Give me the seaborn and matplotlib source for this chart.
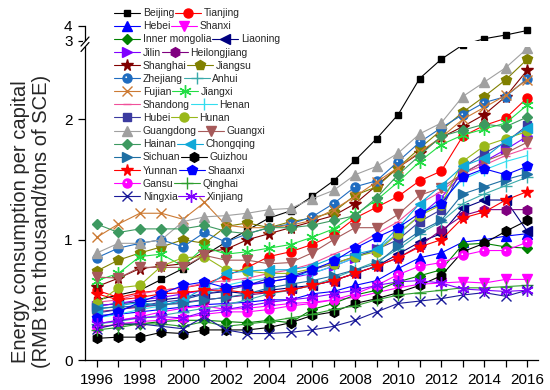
import numpy as np
import pandas as pd
import matplotlib
matplotlib.use('Agg')
import matplotlib.pyplot as plt
from matplotlib.path import Path
from matplotlib.patches import Rectangle
from matplotlib.ticker import FixedLocator, FuncFormatter
from matplotlib.legend_handler import HandlerTuple
import seaborn as sns

# Energy consumption per capital by province, 1996-2016
years = list(range(1996, 2017))

beijing = [0.50, 0.54, 0.58, 0.67, 0.76, 0.87, 0.98, 1.08, 1.18, 1.24, 1.36, 1.49, 1.66, 1.84, 2.04, 2.34, 2.50, 2.75, 3.15, 3.40, 3.70]
tianjing = [0.58, 0.52, 0.56, 0.58, 0.60, 0.63, 0.70, 0.77, 0.86, 0.90, 0.96, 1.04, 1.18, 1.27, 1.36, 1.49, 1.57, 1.86, 1.95, 2.01, 2.18]
hebei = [0.37, 0.38, 0.40, 0.42, 0.44, 0.46, 0.47, 0.48, 0.50, 0.50, 0.55, 0.57, 0.62, 0.66, 0.76, 0.85, 0.89, 0.98, 1.00, 1.03, 1.05]
shanxi = [0.30, 0.33, 0.36, 0.40, 0.43, 0.45, 0.42, 0.43, 0.45, 0.47, 0.48, 0.50, 0.52, 0.56, 0.60, 0.63, 0.64, 0.65, 0.64, 0.67, 0.67]
inner_mongolia = [0.28, 0.29, 0.30, 0.32, 0.33, 0.33, 0.32, 0.31, 0.33, 0.31, 0.42, 0.47, 0.54, 0.58, 0.65, 0.70, 0.75, 0.96, 0.97, 0.94, 0.93]
liaoning = [0.45, 0.47, 0.48, 0.50, 0.52, 0.55, 0.57, 0.55, 0.58, 0.60, 0.62, 0.66, 0.72, 0.78, 0.88, 0.98, 1.05, 1.26, 1.33, 1.33, 1.07]
jilin = [0.45, 0.47, 0.50, 0.52, 0.55, 0.58, 0.60, 0.62, 0.65, 0.68, 0.72, 0.78, 0.85, 0.92, 1.05, 1.20, 1.35, 1.55, 1.65, 1.75, 1.86]
heilongjiang = [0.40, 0.42, 0.44, 0.46, 0.48, 0.50, 0.52, 0.54, 0.56, 0.58, 0.62, 0.66, 0.72, 0.78, 0.85, 0.95, 1.08, 1.20, 1.25, 1.25, 1.25]
shanghai = [0.61, 0.68, 0.76, 0.78, 0.80, 0.90, 0.92, 1.00, 1.05, 1.10, 1.15, 1.20, 1.30, 1.45, 1.60, 1.72, 1.85, 1.94, 2.04, 2.19, 2.41]
jiangsu = [0.74, 0.83, 0.89, 0.94, 1.00, 0.97, 1.11, 1.14, 1.10, 1.15, 1.18, 1.23, 1.37, 1.44, 1.60, 1.76, 1.91, 2.06, 2.19, 2.33, 2.50]
zhejiang = [0.85, 0.93, 0.97, 1.00, 0.94, 1.06, 0.98, 1.05, 1.10, 1.13, 1.19, 1.30, 1.44, 1.49, 1.65, 1.81, 1.93, 2.04, 2.14, 2.19, 2.34]
anhui = [0.30, 0.32, 0.35, 0.37, 0.40, 0.43, 0.46, 0.50, 0.55, 0.58, 0.62, 0.68, 0.75, 0.82, 0.92, 1.05, 1.15, 1.30, 1.38, 1.45, 1.52]
fujian = [1.02, 1.13, 1.22, 1.22, 1.17, 1.31, 1.12, 1.10, 1.10, 1.12, 1.16, 1.25, 1.36, 1.48, 1.60, 1.73, 1.85, 2.00, 2.10, 2.20, 2.33]
jiangxi = [0.66, 0.72, 0.86, 0.88, 0.78, 0.94, 0.88, 0.90, 0.93, 0.96, 1.02, 1.09, 1.21, 1.33, 1.48, 1.65, 1.79, 1.87, 1.92, 1.97, 2.12]
shandong = [0.48, 0.50, 0.55, 0.58, 0.60, 0.64, 0.66, 0.68, 0.72, 0.75, 0.80, 0.88, 0.95, 1.05, 1.15, 1.30, 1.40, 1.55, 1.62, 1.70, 1.76]
henan = [0.35, 0.38, 0.42, 0.45, 0.50, 0.55, 0.62, 0.66, 0.68, 0.70, 0.72, 0.78, 0.85, 0.92, 1.05, 1.20, 1.32, 1.50, 1.58, 1.65, 1.70]
hubei = [0.39, 0.42, 0.45, 0.48, 0.50, 0.55, 0.58, 0.62, 0.68, 0.70, 0.75, 0.80, 0.86, 0.92, 1.00, 1.15, 1.25, 1.60, 1.72, 1.81, 1.95]
hunan = [0.47, 0.60, 0.62, 0.78, 0.85, 0.86, 0.75, 0.74, 0.72, 0.72, 0.76, 0.80, 0.86, 0.90, 1.05, 1.20, 1.29, 1.65, 1.78, 1.84, 1.90]
guangdong = [0.89, 0.97, 0.97, 1.00, 1.15, 1.19, 1.20, 1.22, 1.25, 1.26, 1.34, 1.41, 1.54, 1.61, 1.72, 1.88, 1.97, 2.19, 2.31, 2.43, 2.59]
guangxi = [0.69, 0.68, 0.77, 0.77, 0.77, 0.87, 0.83, 0.83, 0.80, 0.81, 0.89, 1.00, 1.10, 1.10, 1.21, 1.37, 1.43, 1.55, 1.65, 1.72, 1.81]
hainan = [1.13, 1.06, 1.09, 1.09, 1.09, 1.12, 1.07, 1.05, 1.10, 1.10, 1.12, 1.16, 1.20, 1.35, 1.54, 1.70, 1.86, 1.91, 1.96, 1.94, 2.02]
chongqing = [0.42, 0.45, 0.48, 0.45, 0.50, 0.60, 0.72, 0.74, 0.75, 0.75, 0.78, 0.85, 0.88, 0.92, 1.10, 1.30, 1.45, 1.61, 1.68, 1.82, 1.93]
sichuan = [0.43, 0.44, 0.45, 0.46, 0.47, 0.50, 0.52, 0.55, 0.60, 0.63, 0.66, 0.70, 0.75, 0.80, 0.95, 1.07, 1.16, 1.38, 1.44, 1.50, 1.55]
guizhou = [0.18, 0.19, 0.19, 0.23, 0.22, 0.25, 0.25, 0.25, 0.27, 0.31, 0.37, 0.40, 0.47, 0.51, 0.56, 0.62, 0.70, 0.90, 0.97, 1.07, 1.16]
yunnan = [0.55, 0.50, 0.52, 0.55, 0.56, 0.58, 0.58, 0.56, 0.56, 0.58, 0.62, 0.66, 0.72, 0.78, 0.85, 0.94, 1.00, 1.18, 1.23, 1.33, 1.40]
shaanxi = [0.35, 0.40, 0.48, 0.55, 0.62, 0.65, 0.60, 0.63, 0.65, 0.68, 0.75, 0.82, 0.93, 1.02, 1.10, 1.22, 1.30, 1.52, 1.59, 1.54, 1.61]
gansu = [0.27, 0.30, 0.32, 0.33, 0.35, 0.38, 0.40, 0.40, 0.42, 0.45, 0.47, 0.50, 0.55, 0.62, 0.71, 0.78, 0.81, 0.87, 0.91, 0.91, 0.98]
qinghai = [0.25, 0.27, 0.30, 0.30, 0.28, 0.32, 0.28, 0.30, 0.32, 0.35, 0.38, 0.42, 0.45, 0.50, 0.54, 0.56, 0.58, 0.60, 0.60, 0.61, 0.62]
ningxia = [0.26, 0.30, 0.30, 0.28, 0.26, 0.36, 0.25, 0.22, 0.22, 0.23, 0.25, 0.28, 0.33, 0.40, 0.47, 0.49, 0.51, 0.54, 0.56, 0.53, 0.58]
xinjiang = [0.30, 0.33, 0.35, 0.36, 0.35, 0.40, 0.42, 0.45, 0.48, 0.50, 0.52, 0.55, 0.58, 0.62, 0.65, 0.66, 0.64, 0.59, 0.58, 0.57, 0.58]

provinces = ['Beijing', 'Tianjing', 'Hebei', 'Shanxi', 'Inner mongolia', 'Liaoning',
             'Jilin', 'Heilongjiang', 'Shanghai', 'Jiangsu', 'Zhejiang', 'Anhui',
             'Fujian', 'Jiangxi', 'Shandong', 'Henan', 'Hubei', 'Hunan',
             'Guangdong', 'Guangxi', 'Hainan', 'Chongqing', 'Sichuan', 'Guizhou',
             'Yunnan', 'Shaanxi', 'Gansu', 'Qinghai', 'Ningxia', 'Xinjiang']
series = [beijing, tianjing, hebei, shanxi, inner_mongolia, liaoning,
          jilin, heilongjiang, shanghai, jiangsu, zhejiang, anhui,
          fujian, jiangxi, shandong, henan, hubei, hunan,
          guangdong, guangxi, hainan, chongqing, sichuan, guizhou,
          yunnan, shaanxi, gansu, qinghai, ningxia, xinjiang]

df = pd.DataFrame({
    'year': np.tile(years, len(provinces)),
    'province': np.repeat(provinces, len(years)),
    'value': np.concatenate(series),
})

# line styles (Origin-like colours and symbols)
asterisk = (6, 2, 0)
styles = {
    'Beijing': ('#000000', 's', 5), 'Tianjing': ('#FF0000', 'o', 6.5),
    'Hebei': ('#0000FF', '^', 7), 'Shanxi': ('#FF00FF', 'v', 7),
    'Inner mongolia': ('#008000', 'D', 5.5), 'Liaoning': ('#000080', '<', 7),
    'Jilin': ('#8000FF', '>', 7), 'Heilongjiang': ('#800080', 'h', 7),
    'Shanghai': ('#800000', '*', 8.5), 'Jiangsu': ('#808000', 'p', 7),
    'Zhejiang': ('#1F6CC0', 'o', 6.5), 'Anhui': ('#3AAAAA', '+', 8),
    'Fujian': ('#CC7A33', 'x', 7), 'Jiangxi': ('#22DD44', asterisk, 9),
    'Shandong': ('#F0509A', '_', 6), 'Henan': ('#33DDEE', '|', 8),
    'Hubei': ('#3B3BA0', 's', 5.5), 'Hunan': ('#99B81A', 'o', 6.5),
    'Guangdong': ('#A0A0A0', '^', 7), 'Guangxi': ('#A65A5A', 'v', 7),
    'Hainan': ('#3D9960', 'D', 5.5), 'Chongqing': ('#10A8D8', '<', 7),
    'Sichuan': ('#1F6FA3', '>', 7), 'Guizhou': ('#000000', 'h', 7),
    'Yunnan': ('#FF0000', '*', 8.5), 'Shaanxi': ('#0000FF', 'p', 7),
    'Gansu': ('#FF00FF', 'o', 6.5), 'Qinghai': ('#2E9E2E', '+', 8),
    'Ningxia': ('#1A1A99', 'x', 7), 'Xinjiang': ('#8000FF', asterisk, 9),
}
spheres = ['Zhejiang', 'Gansu']

# broken y axis: 0-2.6 linear, 2.6-3 squeezed into the break, 3-4 compressed
y_in = [-10, 2.6, 3.0, 10]
y_out = [-10, 2.6, 2.652, 2.652 + 7 * 0.1247]


def fwd(v):
    return np.interp(v, y_in, y_out)


def inv(v):
    return np.interp(v, y_out, y_in)


sns.set_style('ticks')
plt.rcParams['font.family'] = ['Liberation Sans', 'DejaVu Sans']

fig = plt.figure(figsize=(5.5, 3.9), dpi=100)
ax = fig.add_axes([85 / 550, 30 / 390, 453 / 550, 334.3 / 390])
ax.set_yscale('function', functions=(fwd, inv))

# small white highlight used for the "sphere" symbol
t = np.linspace(0, 2 * np.pi, 24)
hl_verts = np.vstack([[0.5, -0.5], np.column_stack([-0.14 + 0.1 * np.cos(t), 0.14 + 0.1 * np.sin(t)])])
hl_codes = [Path.MOVETO, Path.MOVETO] + [Path.LINETO] * (len(t) - 2) + [Path.CLOSEPOLY]
highlight = Path(hl_verts, hl_codes)

handles = {}
for name in provinces:
    c, m, ms = styles[name]
    sub = df[df['province'] == name]
    sns.lineplot(data=sub, x='year', y='value', ax=ax, color=c, marker=m,
                 markersize=ms, markeredgecolor=c, markeredgewidth=1.0,
                 linewidth=0.8, legend=False)
    line = ax.lines[-1]
    if name in spheres:
        hl, = ax.plot(sub['year'], sub['value'], ls='none', marker=highlight,
                      markersize=ms, color='white', markeredgecolor='none')
        handles[name] = (line, hl)
    else:
        handles[name] = line

ax.set_xlim(1995.45, 2016.5)
ax.set_ylim(0, 4.02)
ax.xaxis.set_major_locator(FixedLocator(years))
ax.xaxis.set_major_formatter(FuncFormatter(lambda v, p: f'{int(round(v))}' if int(round(v)) % 2 == 0 else ''))
ax.yaxis.set_major_locator(FixedLocator([0, 1, 2, 3, 4]))
ax.yaxis.set_major_formatter(FuncFormatter(lambda v, p: f'{int(round(v))}'))
ax.tick_params(axis='both', direction='out', length=5, width=0.9, labelsize=11, pad=4, color='black', labelcolor='black')
sns.despine(ax=ax)
for s in ['left', 'bottom']:
    ax.spines[s].set_linewidth(0.9)
    ax.spines[s].set_color('black')
ax.set_xlabel('')
ax.set_ylabel('')

# hide the lines and spine inside the break, then draw the // marks
ax.add_patch(Rectangle((-0.004, 2.601), 1.01, 0.374, transform=ax.get_yaxis_transform(),
                       facecolor='white', edgecolor='none', zorder=3, clip_on=False))
for yc in [0.9363, 0.9527]:
    ax.plot([-0.0088, 0.0088], [yc - 0.0135, yc + 0.0135], transform=ax.transAxes,
            color='black', lw=0.9, clip_on=False, zorder=4)

fig.text(0.057, 0.433, 'Energy consumption per capital\n(RMB ten thousand/tons of SCE)',
         rotation=90, ha='center', va='center', fontsize=14.5, linespacing=1.15)

# legend: one row per pair, laid out like the original inline legend
for i in range(15):
    a, b = provinces[2 * i], provinces[2 * i + 1]
    fig.legend(handles=[handles[a], handles[b]], labels=[a, b], ncol=2,
               loc='center left', bbox_to_anchor=(114 / 550, 1 - (13.3 + 13.1 * i) / 390),
               frameon=False, fontsize=7.5, handlelength=2.5, handletextpad=0.25,
               columnspacing=0.1, borderpad=0, borderaxespad=0,
               handler_map={tuple: HandlerTuple(ndivide=1)})

fig.savefig('out.png', dpi=100)
